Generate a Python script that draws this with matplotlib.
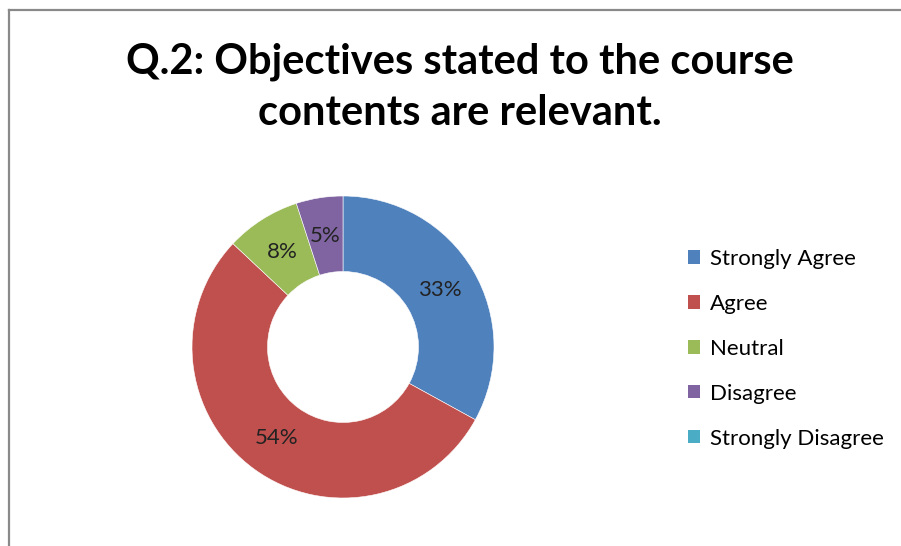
import numpy as np
import matplotlib.pyplot as plt
from matplotlib.patches import Patch
from matplotlib.lines import Line2D

# Survey responses (percent)
categories = ['Strongly Agree', 'Agree', 'Neutral', 'Disagree', 'Strongly Disagree']
values = [33, 54, 8, 5, 0]
colors = ['#4F81BD', '#C0504D', '#9BBB59', '#8064A2', '#4BACC6']
title = 'Q.2: Objectives stated to the course\ncontents are relevant.'

W, H = 901, 546
fig = plt.figure(figsize=(W / 100, H / 100), dpi=100)
fig.patch.set_facecolor('white')

# chart frame (only top and left edges visible in the crop)
fig.add_artist(Line2D([9 / W, 9 / W], [0, 1 - 10 / H], color='#898989', lw=1.6))
fig.add_artist(Line2D([9 / W, 1], [1 - 10 / H, 1 - 10 / H], color='#898989', lw=1.6))

fig.text(460 / W, 1 - 87 / H, title, ha='center', va='center', fontsize=30,
         fontweight='bold', family='Lato', linespacing=1.42)

# donut
cx, cy, r = 343, 347, 151
ax = fig.add_axes([(cx - r) / W, 1 - (cy + r) / H, 2 * r / W, 2 * r / H])
shown = [v for v in values if v > 0]
wedges, _ = ax.pie(shown, colors=colors[:len(shown)], startangle=90, counterclock=False,
                   radius=1, wedgeprops=dict(width=0.5, edgecolor='white', linewidth=0.4))
theta = 90.0
total = sum(shown)
for v in shown:
    mid = np.deg2rad(theta - v / total * 180)
    ax.text(0.745 * np.cos(mid), 0.745 * np.sin(mid), f'{v}%', ha='center', va='center',
            fontsize=16, family='Lato', color='#222222')
    theta -= v / total * 360
ax.set_xlim(-1, 1)
ax.set_ylim(-1, 1)
ax.axis('off')

handles = [Patch(facecolor=c, edgecolor='none') for c in colors]
fig.legend(handles, categories, loc='upper left', bbox_to_anchor=(688 / W, 1 - 249 / H),
           frameon=False, handlelength=0.55, handleheight=0.55,
           handletextpad=0.45, labelspacing=1.12, borderaxespad=0, borderpad=0,
           prop={'family': 'Lato', 'size': 16})

fig.savefig('out.png', dpi=100)
